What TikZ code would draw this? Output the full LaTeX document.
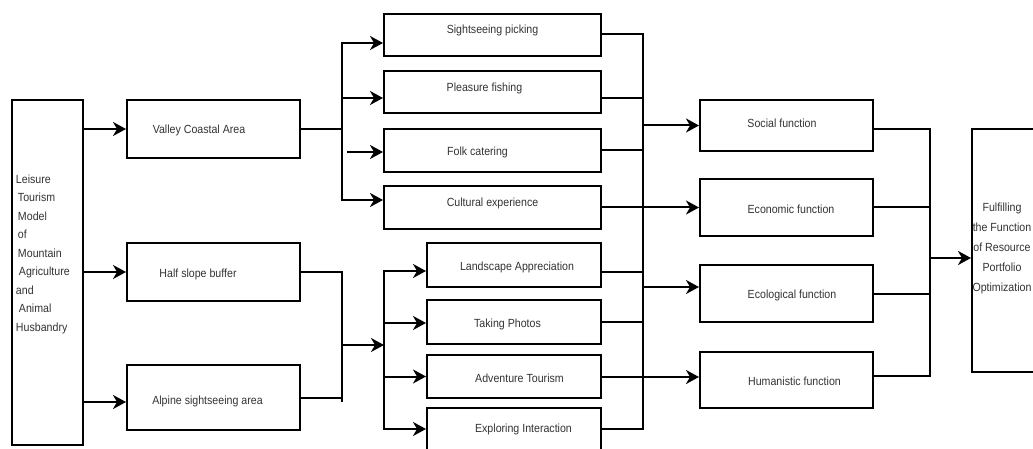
\documentclass[tikz,border=0pt]{standalone}
\usepackage{fontspec}
\setmainfont{Liberation Sans}[FakeStretch=0.9]
\usetikzlibrary{arrows.meta,calc}
\begin{document}
\begin{tikzpicture}[x=1pt,y=-1pt,
  box/.style={draw=black,line width=2pt,inner sep=0pt,fill=white},
  lbl/.style={text=black!80,inner sep=0pt,font=\fontsize{11.8}{14}\selectfont},
  line/.style={draw=black,line width=2pt,line cap=rect},
  arr/.style={draw=black,line width=2pt,-{Stealth[length=13pt,width=14pt,inset=4pt]}}]
\useasboundingbox (0,0) rectangle (1033,449);
\fill[white] (0,0) rectangle (1033,449);
\clip (0,0) rectangle (1033,449);

% left box
\node[box,minimum width=71pt,minimum height=345pt,
  label={[lbl,align=left,text width=63pt,yshift=18.5pt,font=\fontsize{11.8}{18.5}\selectfont]center:Leisure\\
  \hspace*{2pt}Tourism\\\hspace*{2pt}Model\\\hspace*{2pt}of\\\hspace*{2pt}Mountain\\\hspace*{3pt}Agriculture\\and\\\hspace*{3pt}Animal\\Husbandry}] (L) at (47.5,272.5) {};

% zones
\node[box,minimum width=173pt,minimum height=58pt,label={[lbl,xshift=-14.5pt,yshift=-1pt]center:Valley Coastal Area}] (valley) at (213.5,129) {};
\node[box,minimum width=173pt,minimum height=58pt,label={[lbl,xshift=-15.5pt,yshift=-2pt]center:Half slope buffer}] (half) at (213.5,272) {};
\node[box,minimum width=173pt,minimum height=65pt,label={[lbl,xshift=-6pt,yshift=-3.5pt]center:Alpine sightseeing area}] (alpine) at (213.5,397.5) {};

% top activities
\node[box,minimum width=217pt,minimum height=42pt,label={[lbl,yshift=5pt]center:Sightseeing picking}] (sight) at (492.5,35) {};
\node[box,minimum width=217pt,minimum height=42pt,label={[lbl,xshift=-8pt,yshift=4pt]center:Pleasure fishing}] (pleasure) at (492.5,92) {};
\node[box,minimum width=217pt,minimum height=43pt,label={[lbl,xshift=-15pt,yshift=-1.5pt]center:Folk catering}] (folk) at (492.5,150.5) {};
\node[box,minimum width=217pt,minimum height=43pt,label={[lbl,yshift=4.5pt]center:Cultural experience}] (cultural) at (492.5,207.5) {};

% lower activities
\node[box,minimum width=174pt,minimum height=44pt,label={[lbl,xshift=3pt,yshift=-2pt]center:Landscape Appreciation}] (landscape) at (514,265) {};
\node[box,minimum width=174pt,minimum height=44pt,label={[lbl,xshift=-6.5pt,yshift=-2pt]center:Taking Photos}] (photos) at (514,322) {};
\node[box,minimum width=174pt,minimum height=43pt,label={[lbl,xshift=5.5pt,yshift=-1.5pt]center:Adventure Tourism}] (adventure) at (514,376.5) {};
\node[box,minimum width=174pt,minimum height=44pt,label={[lbl,xshift=9.5pt,yshift=1pt]center:Exploring Interaction}] (exploring) at (514,430) {};

% functions
\node[box,minimum width=173pt,minimum height=51pt,label={[lbl,xshift=-4.5pt,yshift=2.5pt]center:Social function}] (social) at (786.5,125.5) {};
\node[box,minimum width=173pt,minimum height=57pt,label={[lbl,xshift=4.5pt,yshift=-1.5pt]center:Economic function}] (economic) at (786.5,207.5) {};
\node[box,minimum width=173pt,minimum height=57pt,label={[lbl,xshift=5.5pt,yshift=-1.5pt]center:Ecological function}] (ecological) at (786.5,293.5) {};
\node[box,minimum width=173pt,minimum height=56pt,label={[lbl,xshift=8pt,yshift=-1pt]center:Humanistic function}] (humanistic) at (786.5,380) {};

% final
\node[box,minimum width=68pt,minimum height=243pt,
  label={[lbl,align=center,xshift=-4pt,yshift=2.5pt,font=\fontsize{11.8}{20}\selectfont]center:Fulfilling\\the Function\\of Resource\\Portfolio\\Optimization}] (final) at (1006,250.5) {};

% left -> zones
\draw[arr] (L.east |- valley.west) -- (valley.west);
\draw[arr] (L.east |- half.west) -- (half.west);
\coordinate (aA) at ($(alpine.west)+(0,4.5)$);
\draw[arr] (aA -| L.east) -- (aA);

% valley -> top activities
\coordinate (j1) at (342,129);
\coordinate (t1) at (342,43);
\coordinate (t2) at (342,98);
\coordinate (t3) at (347,152);
\coordinate (t4) at (342,200);
\draw[line] (valley.east) -- (j1);
\draw[line] (t1) -- (t4);
\draw[arr] (t1) -- (t1 -| sight.west);
\draw[arr] (t2) -- (t2 -| pleasure.west);
\draw[arr] (t3) -- (t3 -| folk.west);
\draw[arr] (t4) -- (t4 -| cultural.west);

% half / alpine -> lower activities
\coordinate (h1) at (342,272);
\coordinate (h2) at (342,401);
\coordinate (h3) at (342,345);
\coordinate (n1) at (384,271);
\coordinate (n4) at (384,429);
\draw[line] (half.east) -- (h1) -- (h2);
\draw[line] (alpine.east) -- (alpine.east -| h1);
\draw[arr] (h3) -- (h3 -| n1);
\draw[line] (n1) -- (n4);
\draw[arr] (n1) -- (n1 -| landscape.west);
\coordinate (n2) at ($(photos.west)+(0,1)$);
\draw[arr] (n2 -| n1) -- (n2);
\draw[arr] (adventure.west -| n1) -- (adventure.west);
\draw[arr] (n4) -- (n4 -| exploring.west);

% activities -> bus
\coordinate (k1) at (643,34);
\coordinate (k2) at (643,429);
\draw[line] (k1) -- (k2);
\draw[line] (sight.east |- k1) -- (k1);
\coordinate (r2) at ($(pleasure.east)+(0,6)$);
\draw[line] (r2) -- (r2 -| k1);
\draw[line] (folk.east) -- (folk.east -| k1);
\draw[line] (cultural.east) -- (cultural.east -| k1);
\coordinate (r5) at ($(landscape.east)+(0,7)$);
\draw[line] (r5) -- (r5 -| k1);
\draw[line] (photos.east) -- (photos.east -| k1);
\draw[line] (adventure.east) -- (adventure.east -| k1);
\draw[line] (exploring.east |- k2) -- (k2);

% bus -> functions
\draw[arr] (social.west -| k1) -- (social.west);
\draw[arr] (economic.west -| k1) -- (economic.west);
\coordinate (e3) at ($(ecological.west)+(0,-6.5)$);
\draw[arr] (e3 -| k1) -- (e3);
\coordinate (e4) at ($(humanistic.west)+(0,-3)$);
\draw[arr] (e4 -| k1) -- (e4);

% functions -> final
\coordinate (m1) at (930,129);
\coordinate (m2) at (930,376);
\draw[line] (m1) -- (m2);
\draw[line] (social.east |- m1) -- (m1);
\draw[line] (economic.east) -- (economic.east -| m1);
\draw[line] (ecological.east) -- (ecological.east -| m1);
\draw[line] (humanistic.east |- m2) -- (m2);
\coordinate (fa) at ($(final.west)+(0,7.5)$);
\draw[arr] (fa -| m1) -- (fa);
\end{tikzpicture}
\end{document}
